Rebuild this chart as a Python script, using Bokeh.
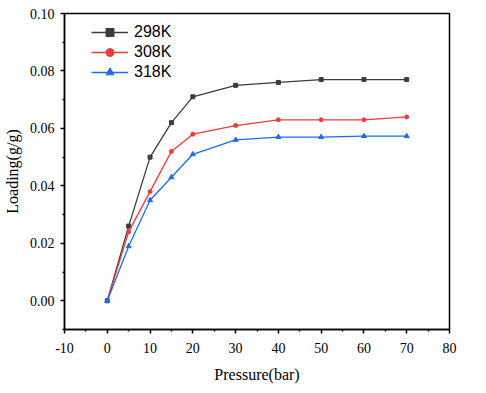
from bokeh.plotting import figure
from bokeh.models import Range1d, FixedTicker, Legend, LegendItem
from bokeh.embed import file_html
from bokeh.resources import INLINE

pressure = [0, 5, 10, 15, 20, 30, 40, 50, 60, 70]
load_298 = [0.0, 0.026, 0.050, 0.062, 0.071, 0.075, 0.076, 0.077, 0.077, 0.077]
load_308 = [0.0, 0.024, 0.038, 0.052, 0.058, 0.061, 0.063, 0.063, 0.063, 0.064]
load_318 = [0.0, 0.019, 0.035, 0.043, 0.051, 0.056, 0.057, 0.057, 0.0573, 0.0573]
series_names = ["298K", "308K", "318K"]
x_ticks = [-10, 0, 10, 20, 30, 40, 50, 60, 70, 80]
y_ticks = [0.0, 0.02, 0.04, 0.06, 0.08, 0.10]

p = figure(width=470, height=385, output_backend="svg", toolbar_location=None,
           x_range=Range1d(-10, 80), y_range=Range1d(-0.01, 0.10),
           min_border_left=55, min_border_right=21, min_border_top=13, min_border_bottom=54)
p.grid.visible = False
p.background_fill_color = "white"
p.outline_line_color = "black"
p.outline_line_width = 1.5

colors = ["#3c3c3c", "#f03a3a", "#1a6ee8"]
r1 = p.line(pressure, load_298, color=colors[0], line_width=1.3)
m1 = p.scatter(pressure, load_298, marker="square", size=4, color=colors[0])
r2 = p.line(pressure, load_308, color=colors[1], line_width=1.3)
m2 = p.scatter(pressure, load_308, marker="circle", size=4, color=colors[1])
r3 = p.line(pressure, load_318, color=colors[2], line_width=1.3)
m3 = p.scatter(pressure, load_318, marker="triangle", size=5, color=colors[2])

legend = Legend(items=[
    LegendItem(label=series_names[0], renderers=[r1, m1]),
    LegendItem(label=series_names[1], renderers=[r2, m2]),
    LegendItem(label=series_names[2], renderers=[r3, m3]),
], location=(27, 247))
legend.border_line_color = None
legend.background_fill_alpha = 0
legend.padding = 0
legend.margin = 0
legend.spacing = 0
legend.glyph_width = 37
legend.glyph_height = 20
legend.label_height = 20
legend.label_standoff = 6
legend.label_text_font = "Liberation Sans"
legend.label_text_font_size = "16px"
legend.label_text_color = "black"
p.add_layout(legend)

for ax in (p.xaxis[0], p.yaxis[0]):
    ax.axis_line_width = 1.5
    ax.axis_line_color = "black"
    ax.major_tick_line_width = 1.5
    ax.minor_tick_line_width = 1.5
    ax.major_tick_out = 4
    ax.major_tick_in = 0
    ax.minor_tick_out = 2
    ax.minor_tick_in = 0
    ax.major_label_text_font = "Liberation Serif"
    ax.major_label_text_font_size = "14px"
    ax.major_label_text_color = "black"
    ax.axis_label_text_font = "Liberation Serif"
    ax.axis_label_text_font_size = "16px"
    ax.axis_label_text_font_style = "normal"
    ax.axis_label_text_color = "black"

p.xaxis[0].ticker = FixedTicker(ticks=x_ticks, minor_ticks=[-5, 5, 15, 25, 35, 45, 55, 65, 75])
p.yaxis[0].ticker = FixedTicker(ticks=y_ticks, minor_ticks=[-0.01, 0.01, 0.03, 0.05, 0.07, 0.09])
p.xaxis[0].major_label_overrides = {v: str(v) for v in x_ticks}
p.yaxis[0].major_label_overrides = {v: f"{v:.2f}" for v in y_ticks}
p.xaxis[0].axis_label = "Pressure(bar)"
p.yaxis[0].axis_label = "Loading(g/g)"
p.xaxis[0].major_label_standoff = 9
p.xaxis[0].axis_label_standoff = 10
p.yaxis[0].major_label_standoff = 6
p.yaxis[0].axis_label_standoff = 6

open("out.html", "w").write(file_html(p, INLINE))
